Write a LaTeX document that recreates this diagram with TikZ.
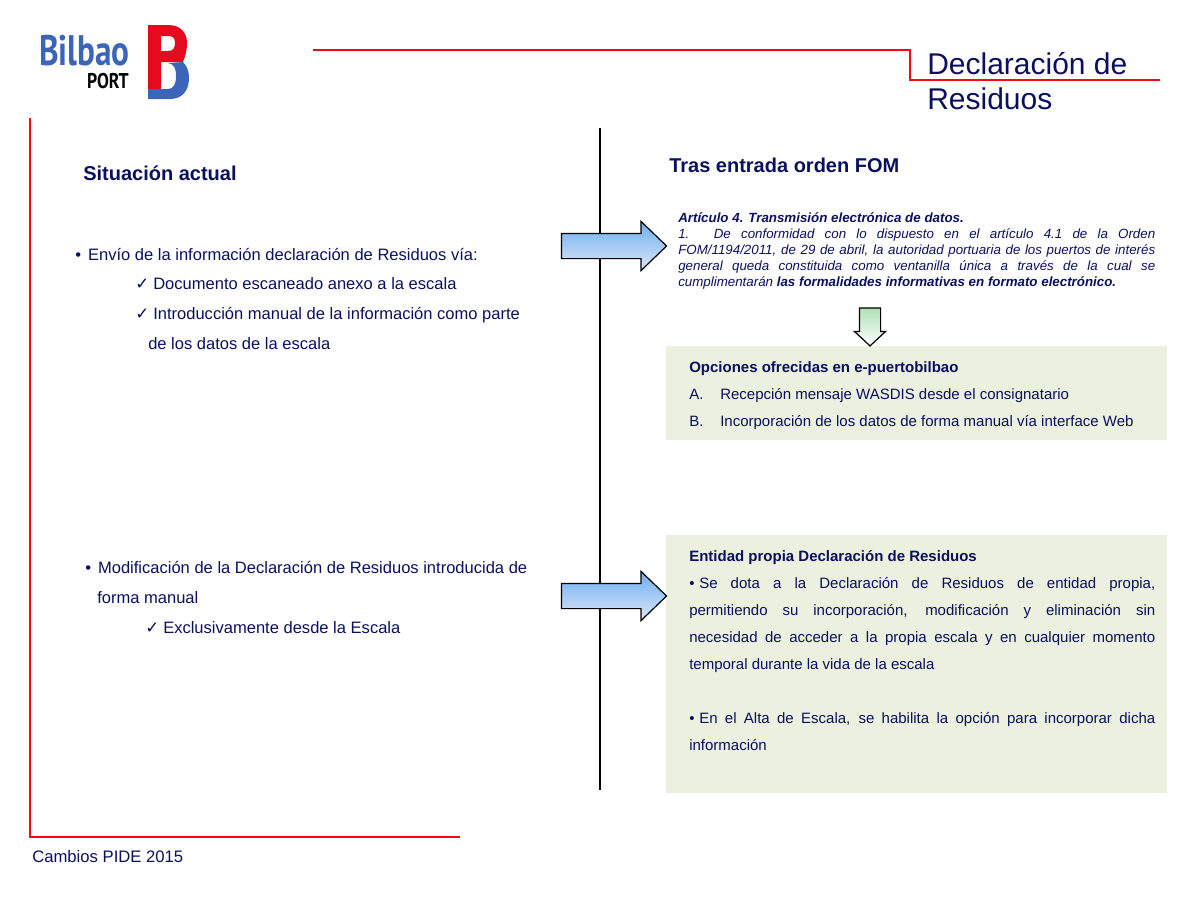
\documentclass[tikz,border=0pt]{standalone}
\usepackage{fontspec}
\setmainfont{Liberation Sans}
\newfontfamily\symbolfont{DejaVu Sans}
\newfontfamily\logofont{PT Sans}
\usetikzlibrary{shapes.arrows}
\definecolor{bilbaonavy}{RGB}{10, 15, 95}
\definecolor{bilbaored}{RGB}{230, 10, 30}
\definecolor{bilbaoblue}{RGB}{60, 100, 185}
\definecolor{linered}{RGB}{245, 10, 20}
\definecolor{panelgreen}{RGB}{235, 240, 223}
\definecolor{arrowtop}{RGB}{110, 175, 245}
\definecolor{arrowmid}{RGB}{150, 195, 245}
\definecolor{arrowlow}{RGB}{220, 230, 245}
\definecolor{arrowgreen}{RGB}{175, 225, 180}
\tikzset{
    bodytext/.style={inner sep=0pt, anchor=base west, text=bilbaonavy, font=\fontsize{12.4}{15}\selectfont},
    paneltext/.style={inner sep=0pt, anchor=base west, text=bilbaonavy, font=\fontsize{11.25}{14}\selectfont},
    paneltitle/.style={inner sep=0pt, anchor=base west, text=bilbaonavy, font=\fontsize{11.25}{14}\selectfont\bfseries},
    panelpara/.style={inner sep=0pt, anchor=north west, text width=349.5pt, align=justify, text=bilbaonavy,
          font=\fontsize{11.25}{20.25}\selectfont},
    headtext/.style={inner sep=0pt, anchor=base west, text=bilbaonavy, font=\fontsize{15}{18}\selectfont\bfseries},
    blockarrow/.style={single arrow, draw=black, line width=0.9pt, inner sep=0pt, single arrow tip angle=88,
          single arrow head extend=9pt, minimum width=36pt, minimum height=78.75pt,
          top color=arrowtop, middle color=arrowmid, bottom color=arrowlow},
    redline/.style={linered, line width=1.2pt}
}
\newcommand{\bulletmark}{\makebox[9.6pt][l]{•}}
\newcommand{\panelmark}{\makebox[7.5pt][l]{•}}
\newcommand{\checkitem}{\makebox[13.5pt][l]{{\symbolfont\fontsize{12.5}{12.5}\selectfont ✓}}}
\begin{document}
\begin{tikzpicture}[x=0.75pt, y=-0.75pt]
    \useasboundingbox (0,0) rectangle (1200,900);

    % Logo
    \fill[bilbaored, even odd rule] (148,25) -- (168,25) .. controls (181,25) and (187,33) .. (187,43)
        .. controls (187,51) and (185,57) .. (183,62) -- (161,62) -- (161,89) -- (148,89) -- cycle
        (161,36) -- (161,51) -- (168,51) .. controls (173,51) and (175,48) .. (175,43)
        .. controls (175,38) and (173,36) .. (168,36) -- cycle;
    \fill[bilbaoblue] (148,89) -- (168,89) .. controls (173,89) and (176,85) .. (176,76)
        .. controls (176,68) and (174,64) .. (168,63) -- (183,62)
        .. controls (187,66) and (189,71) .. (189,78) .. controls (189,91) and (182,99) .. (170,99)
        -- (148,99) -- cycle;
    \node[inner sep=0pt, anchor=base east, text=bilbaoblue, font=\logofont\fontsize{32}{32}\selectfont\bfseries] (bilbao) at (130,65) {\scalebox{0.78}[1]{Bilbao}};
    \node[inner sep=0pt, anchor=base east, text=black, font=\logofont\fontsize{16}{16}\selectfont\bfseries] (port) at (129,88) {\scalebox{0.83}[1]{PORT}};

    % Frame lines
    \draw[redline] (313,50) -- (910,50) -- (910,80) -- (1160,80);
    \draw[redline] (30,118) -- (30,837) -- (460,837);
    \draw[black, line width=1.4pt] (600,128) -- (600,790);

    % Title
    \node[inner sep=0pt, anchor=base west, text=bilbaonavy, font=\fontsize{22.5}{26.25}\selectfont, align=left] (title) at (927,109) {Declaración de\\Residuos};

    % Panels
    \fill[panelgreen] (666,346) rectangle (1167,440);
    \fill[panelgreen] (666,535) rectangle (1167,793);

    % Left column
    \node[headtext] (situacion) at (83,180) {Situación actual};
    \node[bodytext] (envio) at (75,260) {\bulletmark Envío de la información declaración de Residuos vía:};
    \node[bodytext] (documento) at (135,289) {\checkitem Documento escaneado anexo a la escala};
    \node[bodytext] (introduccion) at (135,319) {\checkitem Introducción manual de la información como parte};
    \node[bodytext] (datos) at (148,349) {de los datos de la escala};
    \node[bodytext] (modificacion) at (85,573) {\bulletmark Modificación de la Declaración de Residuos introducida de};
    \node[bodytext] (forma) at (97,603) {forma manual};
    \node[bodytext] (exclusivamente) at (145,633) {\checkitem Exclusivamente desde la Escala};

    % Right column
    \node[headtext] (tras) at (669,172) {Tras entrada orden FOM};
    \node[inner sep=0pt, anchor=north west, text width=357.75pt, align=justify, text=bilbaonavy,
          font=\fontsize{10}{12}\selectfont\itshape] (articulo) at (678,212)
          {\textbf{Artículo 4. Transmisión electrónica de datos.}\\
           1. De conformidad con lo dispuesto en el artículo 4.1 de la Orden\linebreak
           FOM/1194/2011, de 29 de abril, la autoridad portuaria de los puertos de interés\linebreak
           general queda constituida como ventanilla única a través de la cual se\linebreak
           cumplimentarán \textbf{las formalidades informativas en formato electrónico.}};

    \node[paneltitle] (opciones) at (689,372) {Opciones ofrecidas en e-puertobilbao};
    \node[paneltext] (letraa) at (689,399) {A.};
    \node[paneltext] (recepcion) at (720,399) {Recepción mensaje WASDIS desde el consignatario};
    \node[paneltext] (letrab) at (689,426) {B.};
    \node[paneltext] (incorporacion) at (720,426) {Incorporación de los datos de forma manual vía interface Web};

    \node[paneltitle] (entidad) at (689,561) {Entidad propia Declaración de Residuos};
    \node[panelpara] (dota) at (689,577)
          {\panelmark Se dota a la Declaración de Residuos de entidad propia,\linebreak
           permitiendo su incorporación, modificación y eliminación sin\linebreak
           necesidad de acceder a la propia escala y en cualquier momento\linebreak
           temporal durante la vida de la escala};
    \node[panelpara] (alta) at (689,712)
          {\panelmark En el Alta de Escala, se habilita la opción para incorporar dicha\linebreak
           información};

    % Arrows
    \node[blockarrow] (flechaenvio) at (607.5,246) {\rule{0pt}{18pt}};
    \node[blockarrow] (flechamodifica) at (607.5,596) {\rule{0pt}{18pt}};
    \node[single arrow, draw=black, line width=0.9pt, inner sep=0pt, shape border rotate=270,
          single arrow tip angle=94, single arrow head extend=3.75pt, minimum width=22.5pt, minimum height=28.5pt,
          top color=arrowgreen, bottom color=white] (flechaopciones) at (870,322) {\rule{15pt}{0pt}};

    % Footer
    \node[inner sep=0pt, anchor=base west, text=bilbaonavy, font=\fontsize{12.5}{15}\selectfont] (pie) at (32,862) {Cambios PIDE 2015};
\end{tikzpicture}
\end{document}
